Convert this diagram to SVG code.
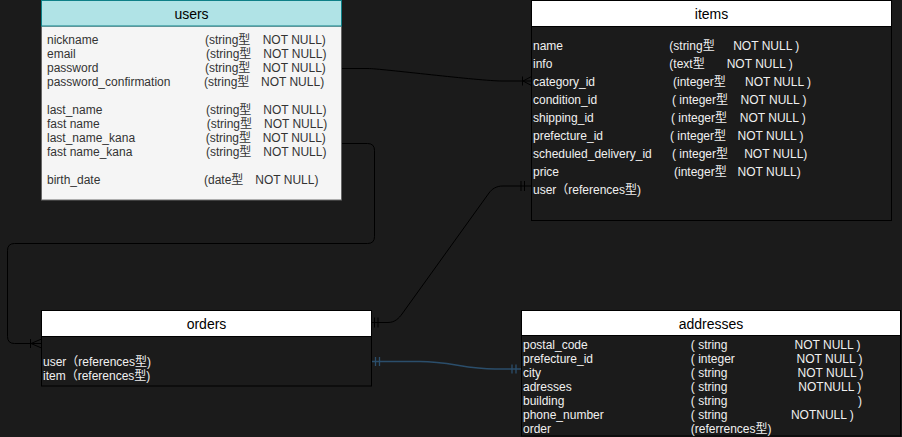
<svg xmlns="http://www.w3.org/2000/svg" width="902" height="437" viewBox="0 0 902 437">
<style>
text{font-family:"Liberation Sans","Noto Sans CJK JP",Arial,sans-serif;}
.hd{font-size:14px;fill:#000;text-anchor:middle;}
.u{font-size:12px;fill:#333333;}
.w{font-size:12px;fill:#f0f0f0;}
.box{fill:#1b1b1b;stroke:#000;stroke-width:1;}
.hbox{fill:#ffffff;stroke:#000;stroke-width:1;}
.ln{fill:none;stroke:#000;stroke-width:1;}
.bl{fill:none;stroke:#2b4e6b;stroke-width:1.3;}
</style>
<rect x="0" y="0" width="902" height="437" fill="#1b1b1b"/>

<g id="connectors">
  <!-- users.password -> items.category_id -->
  <path class="ln" d="M341.5,68.5 L368,68.5 C380,68.5 480,81 502,81 L531.5,81"/>
  <path class="ln" d="M522.5,76.5 L522.5,85.5 M523,81 L531.5,76.5 M523,81 L531.5,85.5"/>
  <!-- users.fast name_kana -> orders -->
  <path class="ln" d="M341.5,143.5 L367.5,143.5 Q374.5,143.5 374.5,150.5 L374.5,236.5 Q374.5,243.5 367.5,243.5 L14.5,243.5 Q7.5,243.5 7.5,250.5 L7.5,336.5 Q7.5,343.5 14.5,343.5 L41.5,343.5"/>
  <path class="ln" d="M30.5,339 L30.5,348 M31,343.5 L41.5,339 M31,343.5 L41.5,348"/>
  <!-- items.user -> orders -->
  <path class="ln" d="M531.5,186 L503,186 C496,186 492,189 489,193 L402,314 C399,318 395,322.5 388,322.5 L371.5,322.5"/>
  <path class="ln" d="M521,181 L521,191 M524.5,181 L524.5,191 M374.5,317.5 L374.5,327.5 M378,317.5 L378,327.5"/>
  <!-- orders.user -> addresses -->
  <path class="bl" d="M371.5,361.5 L420,361.5 C450,361.5 465,369 495,369 L521.5,369"/>
  <path class="bl" d="M375.5,357 L375.5,366 M379.5,357 L379.5,366 M512,364.5 L512,373.5 M516,364.5 L516,373.5"/>
</g>

<g id="users">
  <rect x="41.5" y="26" width="300" height="174" fill="#f5f5f5" stroke="#666666"/>
  <rect x="41.5" y="0.5" width="300" height="25.5" fill="#b0e3e6" stroke="#0e8088"/>
  <text class="hd" x="191.5" y="19">users</text>
  <text class="u" y="44"><tspan x="47">nickname</tspan><tspan x="205">(string型</tspan><tspan x="262.7">NOT NULL)</tspan></text>
  <text class="u" y="58"><tspan x="47">email</tspan><tspan x="206">(string型</tspan><tspan x="263.3">NOT NULL)</tspan></text>
  <text class="u" y="72"><tspan x="47">password</tspan><tspan x="205">(string型</tspan><tspan x="262.7">NOT NULL)</tspan></text>
  <text class="u" y="86"><tspan x="47">password_confirmation</tspan><tspan x="204">(string型</tspan><tspan x="261">NOT NULL)</tspan></text>
  <text class="u" y="114"><tspan x="47">last_name</tspan><tspan x="206">(string型</tspan><tspan x="263.3">NOT NULL)</tspan></text>
  <text class="u" y="128"><tspan x="47">fast name</tspan><tspan x="206.7">(string型</tspan><tspan x="264">NOT NULL)</tspan></text>
  <text class="u" y="142"><tspan x="47">last_name_kana</tspan><tspan x="205.7">(string型</tspan><tspan x="262.7">NOT NULL)</tspan></text>
  <text class="u" y="156"><tspan x="47">fast name_kana</tspan><tspan x="206">(string型</tspan><tspan x="263.3">NOT NULL)</tspan></text>
  <text class="u" y="184"><tspan x="47">birth_date</tspan><tspan x="204">(date型</tspan><tspan x="255.3">NOT NULL)</tspan></text>
</g>

<g id="items">
  <rect class="box" x="531.5" y="26.5" width="360" height="194"/>
  <rect class="hbox" x="531.5" y="0.5" width="360" height="26"/>
  <text class="hd" x="711.5" y="19">items</text>
  <text class="w" y="50"><tspan x="533">name</tspan><tspan x="669.3">(string型</tspan><tspan x="733.2">NOT NULL )</tspan></text>
  <text class="w" y="68"><tspan x="533">info</tspan><tspan x="669.3">(text型</tspan><tspan x="726.7">NOT NULL )</tspan></text>
  <text class="w" y="86"><tspan x="533">category_id</tspan><tspan x="673">(integer型</tspan><tspan x="745">NOT NULL )</tspan></text>
  <text class="w" y="104"><tspan x="533">condition_id</tspan><tspan x="672">( integer型</tspan><tspan x="740.6">NOT NULL )</tspan></text>
  <text class="w" y="122"><tspan x="533">shipping_id</tspan><tspan x="671">(  integer型</tspan><tspan x="739.8">NOT NULL )</tspan></text>
  <text class="w" y="140"><tspan x="533">prefecture_id</tspan><tspan x="670">( integer型</tspan><tspan x="737.6">NOT NULL )</tspan></text>
  <text class="w" y="158"><tspan x="533">scheduled_delivery_id</tspan><tspan x="672">( integer型</tspan><tspan x="744.2">NOT NULL)</tspan></text>
  <text class="w" y="176"><tspan x="533">price</tspan><tspan x="674">(integer型</tspan><tspan x="737.6">NOT NULL)</tspan></text>
  <text class="w" x="533" y="194">user（references型)</text>
</g>

<g id="orders">
  <rect class="box" x="41.5" y="336.5" width="330" height="49.5"/>
  <rect class="hbox" x="41.5" y="310.5" width="330" height="26"/>
  <text class="hd" x="206.5" y="329">orders</text>
  <text class="w" x="43" y="366.3">user（references型)</text>
  <text class="w" x="43" y="380">item（references型)</text>
</g>

<g id="addresses">
  <rect class="box" x="521.5" y="335.5" width="379" height="100.5"/>
  <rect class="hbox" x="521.5" y="310.5" width="379" height="25"/>
  <text class="hd" x="711" y="329">addresses</text>
  <text class="w" y="348.5"><tspan x="523">postal_code</tspan><tspan x="690.8">( string</tspan><tspan x="794.6">NOT NULL )</tspan></text>
  <text class="w" y="362.5"><tspan x="523">prefecture_id</tspan><tspan x="690.8">( integer</tspan><tspan x="796.6">NOT NULL )</tspan></text>
  <text class="w" y="376.5"><tspan x="523">city</tspan><tspan x="690.8">( string</tspan><tspan x="797.6">NOT NULL )</tspan></text>
  <text class="w" y="390.5"><tspan x="523">adresses</tspan><tspan x="690.8">( string</tspan><tspan x="798.3">NOTNULL )</tspan></text>
  <text class="w" y="404.5"><tspan x="523">building</tspan><tspan x="690.8">( string</tspan><tspan x="857.9">)</tspan></text>
  <text class="w" y="418.5"><tspan x="523">phone_number</tspan><tspan x="690.8">( string</tspan><tspan x="790.9">NOTNULL )</tspan></text>
  <text class="w" y="432.5"><tspan x="523">order</tspan><tspan x="690.8">(referrences型)</tspan></text>
</g>
</svg>
